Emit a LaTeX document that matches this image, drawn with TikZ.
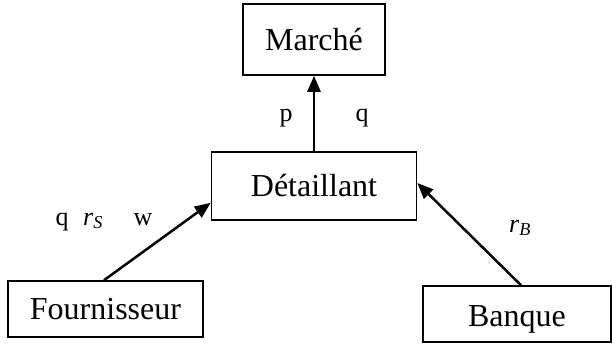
\documentclass[tikz,border=0pt]{standalone}
\usepackage{fontspec}
\setmainfont{Liberation Serif}
\usetikzlibrary{arrows.meta}
\begin{document}
\begin{tikzpicture}[x=1pt,y=-1pt,
  box/.style={draw,line width=1.6pt,inner sep=0pt,font=\fontsize{32}{36}\selectfont},
  flow/.style={line width=2.5pt,-{Triangle[length=16pt,width=13pt]}},
  lab/.style={anchor=base,inner sep=0pt,font=\fontsize{26}{30}\selectfont}]
\useasboundingbox (0,0) rectangle (612,343);
\node[box,minimum width=142pt,minimum height=71pt] (marche) at (314,39.5) {Marché};
\node[box,minimum width=205pt,minimum height=68pt] (det) at (314,186) {Détaillant};
\node[box,minimum width=195pt,minimum height=56pt] (four) at (105.5,309) {Fournisseur};
\node[box,minimum width=188pt,minimum height=56pt,text depth=0pt] (banque) at (517,314) {\raisebox{-4pt}{Banque}};
\draw[flow] (det.north) -- (marche.south);
\draw[flow] ([xshift=-1.5pt]four.north) -- ([yshift=18pt]det.south west);
\draw[flow] ([xshift=4pt]banque.north) -- ([yshift=3pt]det.east);
\node[lab] (lp) at (286,121) {p};
\node[lab] (lq) at (362,121) {q};
\node[lab] (lq2) at (62,225) {q};
\node[lab] (lrs) at (93,225) {\textit{r}\textsubscript{\textit{S}}};
\node[lab] (lw) at (143,225) {w};
\node[lab] (lrb) at (520,232) {\textit{r}\textsubscript{\textit{B}}};
\end{tikzpicture}
\end{document}
